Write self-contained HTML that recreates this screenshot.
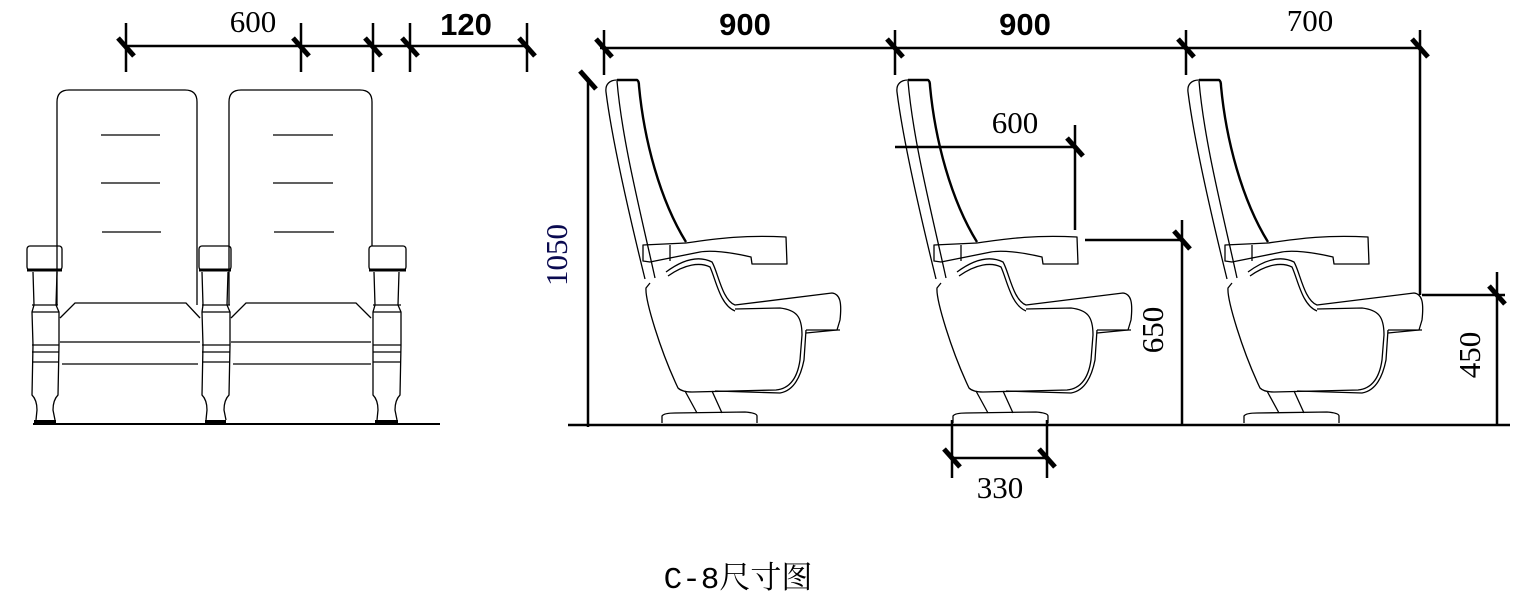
<!DOCTYPE html>
<html><head><meta charset="utf-8"><style>
html,body{margin:0;padding:0;background:#fff;width:1519px;height:602px;overflow:hidden}
svg{display:block}
.t{font-family:"Liberation Serif","Noto Serif CJK SC",serif;font-size:31px;fill:#000}
.b{font-family:"Liberation Sans",sans-serif;font-size:31px;font-weight:bold;fill:#000}
</style></head><body>
<svg width="1519" height="602" viewBox="0 0 1519 602" xmlns="http://www.w3.org/2000/svg">
<defs>
<g id="chair" fill="none" stroke="#000" stroke-width="1.3" stroke-linejoin="round">
 <path d="M645,279 C628,210 612,140 606,92 C605,84 610,80 617,80"/>
 <path d="M655,278 C640,210 622,140 617,81"/>
 <path d="M617,80 L637,80 Q639,81 639,86 C644,140 660,200 686,242" stroke-width="2.4"/>
 <path d="M643,245 L686,243 C720,238 745,235 786,237 L787,264 L752,264 L751,257 C730,252 710,250 700,252 L650,262 L643,261 Z"/>
 <path d="M670,245 L670,261"/>
 <path d="M666,272 C685,258 700,256 712,262 C718,272 722,300 735,305 L832,293 C840,294 842,302 840,320 L837,330 L806,333"/>
 <path d="M668,276 C685,264 700,262 710,267 C716,280 720,305 735,311"/>
 <path d="M650,283 L646,288 C645,300 660,350 678,388 Q682,392 692,392 L776,390 Q796,388 800,360 L802,335 C802,316 796,310 780,308 L735,309"/>
 <path d="M715,391 L780,393 Q798,390 804,360 L806,330"/>
 <path d="M806,330 L840,330"/>
 <path d="M685,391 L697,413 M712,391 L722,413"/>
 <path d="M662,423 L662,416 Q664,413 675,413 L745,412 Q757,413 757,416 L757,423"/>
</g>
<g id="tk"><line x1="-8" y1="-9" x2="8" y2="9" stroke="#000" stroke-width="5"/></g>
</defs>

<g fill="none" stroke="#000" stroke-width="1.3">
 <path d="M57,305 L57,102 Q57,90 69,90 L185,90 Q197,90 197,102 L197,305"/>
 <path d="M229,305 L229,102 Q229,90 241,90 L360,90 Q372,90 372,102 L372,246"/>
 <path d="M101,135 H160 M101,183 H160 M102,232 H161 M273,135 H333 M273,183 H333 M274,232 H334"/>
 <path d="M60,318 L75,303 L186,303 L200,318 M60,342 L200,342 M62,364 L198,364"/>
 <path d="M231,318 L246,303 L356,303 L371,318 M231,342 L371,342 M233,364 L371,364"/>
 <rect x="27" y="246" width="35" height="24" rx="3"/>
 <rect x="199" y="246" width="32" height="24" rx="3"/>
 <rect x="369" y="246" width="37" height="24" rx="3"/>
</g>
<g stroke="#000" stroke-width="3">
 <path d="M27,270 H62 M199,270 H231 M369,270 H406"/>
</g>
<g fill="none" stroke="#000" stroke-width="1.3">
 <path d="M33,272 L34,305 L32,312 L33,345 L32,395 Q37,400 37,410 L36,420 M57,272 L56,305 L59,312 L59,345 L58,395 Q53,400 53,410 L55,420"/>
 <path d="M32,305 H58 M32,312 H59 M32,345 H59 M32,352 H59 M32,362 H59"/>
 <path d="M202,272 L203,305 L202,312 L203,345 L202,395 Q207,400 207,410 L206,420 M228,272 L227,305 L230,312 L230,345 L229,395 Q224,400 224,410 L226,420"/>
 <path d="M202,305 H230 M202,312 H230 M202,345 H230 M202,352 H230 M202,362 H230"/>
 <path d="M374,272 L375,305 L373,312 L373,345 L373,395 Q378,400 378,410 L377,420 M399,272 L398,305 L401,312 L401,345 L400,395 Q395,400 395,410 L397,420"/>
 <path d="M373,305 H401 M373,312 H401 M373,345 H401 M373,352 H401 M373,362 H401"/>
</g>
<g stroke="#000" stroke-width="4"><path d="M34,422 H56 M205,422 H226 M375,422 H398"/></g>
<line x1="33" y1="424" x2="440" y2="424" stroke="#000" stroke-width="2"/>

<g stroke="#000" stroke-width="2.5">
 <line x1="126" y1="46" x2="527" y2="46"/>
 <path d="M126,23 V72 M301,23 V72 M373,23 V72 M410,23 V72 M527,23 V72"/>
</g>
<use href="#tk" x="126" y="47"/><use href="#tk" x="301" y="47"/><use href="#tk" x="373" y="47"/><use href="#tk" x="410" y="47"/><use href="#tk" x="527" y="47"/>
<text class="t" x="253" y="32" text-anchor="middle">600</text>
<text class="b" x="466" y="35" text-anchor="middle">120</text>

<use href="#chair"/>
<use href="#chair" x="291"/>
<use href="#chair" x="582"/>

<g stroke="#000" stroke-width="2.5" fill="none">
 <line x1="568" y1="425" x2="1510" y2="425"/>
 <line x1="600" y1="48" x2="1420" y2="48"/>
 <path d="M604,30 V75 M895,30 V75 M1186,30 V75 M1420,30 V295"/>
 <line x1="588" y1="78" x2="588" y2="427"/>
 <path d="M895,147 H1075 M1075,125 V230"/>
 <path d="M1085,240 H1182 M1182,220 V425"/>
 <path d="M1422,295 H1505 M1497,272 V425"/>
 <path d="M952,420 V478 M1047,420 V478 M952,458 H1047"/>
</g>
<use href="#tk" x="604" y="48"/><use href="#tk" x="895" y="48"/><use href="#tk" x="1186" y="48"/><use href="#tk" x="1420" y="48"/>
<use href="#tk" x="588" y="80"/>
<use href="#tk" x="1075" y="147"/><use href="#tk" x="1182" y="240"/><use href="#tk" x="1497" y="295"/>
<use href="#tk" x="952" y="458"/><use href="#tk" x="1047" y="458"/>
<text class="b" x="745" y="35" text-anchor="middle">900</text>
<text class="b" x="1025" y="35" text-anchor="middle">900</text>
<text class="t" x="1310" y="31" text-anchor="middle">700</text>
<text class="t" x="1015" y="133" text-anchor="middle">600</text>
<text class="t" x="1000" y="498" text-anchor="middle">330</text>
<text class="t" x="0" y="0" text-anchor="middle" transform="translate(567,255) rotate(-90)" style="fill:#0a0a50">1050</text>
<text class="t" x="0" y="0" text-anchor="middle" transform="translate(1163,330) rotate(-90)">650</text>
<text class="t" x="0" y="0" text-anchor="middle" transform="translate(1480,355) rotate(-90)">450</text>
<text x="738" y="588" text-anchor="middle" style="font-family:'Liberation Mono','Noto Serif CJK SC',monospace;font-size:31px">C-8尺寸图</text>
</svg>
</body></html>
